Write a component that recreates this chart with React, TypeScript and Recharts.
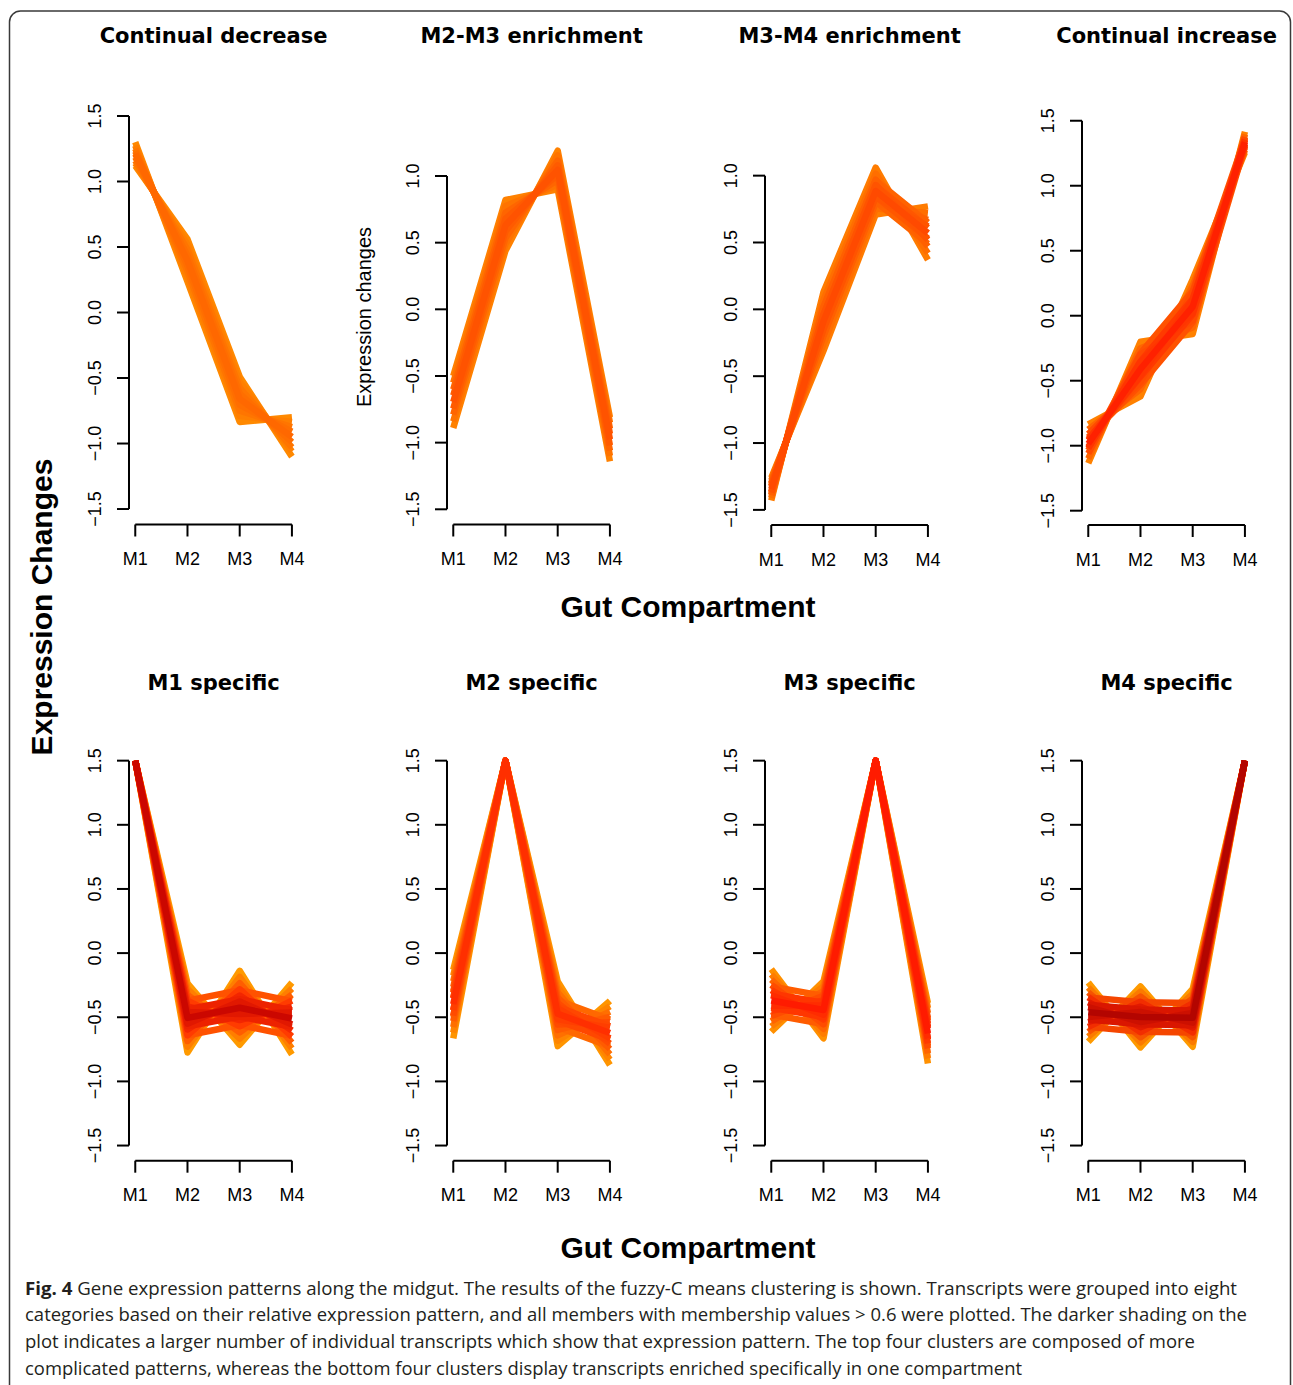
import { LineChart, Line, XAxis, YAxis, ReferenceLine } from 'recharts';

// gut compartments along the midgut
const compartments = ['M1', 'M2', 'M3', 'M4'];
const positions = [1, 2, 3, 4];

const fullTicks = [-1.5, -1.0, -0.5, 0.0, 0.5, 1.0, 1.5];
const shortTicks = [-1.5, -1.0, -0.5, 0.0, 0.5, 1.0];

const clusterTitles = [
  'Continual decrease',
  'M2-M3 enrichment',
  'M3-M4 enrichment',
  'Continual increase',
  'M1 specific',
  'M2 specific',
  'M3 specific',
  'M4 specific',
];

// expression values at M1..M4 for transcripts of each cluster
const decreaseLines = [
  [1.12, 0.56, -0.49, -1.1],
  [1.14, 0.52, -0.53, -1.06],
  [1.16, 0.48, -0.575, -1.03],
  [1.185, 0.435, -0.62, -0.99],
  [1.21, 0.395, -0.66, -0.95],
  [1.23, 0.355, -0.705, -0.91],
  [1.25, 0.315, -0.75, -0.875],
  [1.275, 0.275, -0.79, -0.835],
  [1.3, 0.235, -0.835, -0.8],
];
const decreaseMembership = [0.62, 0.7, 0.78, 0.86, 0.94, 0.86, 0.78, 0.7, 0.62];

const m2m3Lines = [
  [-0.5, 0.82, 0.9, -1.14],
  [-0.55, 0.775, 0.935, -1.1],
  [-0.6, 0.725, 0.97, -1.06],
  [-0.645, 0.68, 1.01, -1.02],
  [-0.695, 0.63, 1.045, -0.975],
  [-0.745, 0.585, 1.08, -0.935],
  [-0.79, 0.535, 1.115, -0.895],
  [-0.84, 0.49, 1.155, -0.85],
  [-0.89, 0.44, 1.19, -0.81],
];
const m2m3Membership = [0.62, 0.7, 0.78, 0.86, 0.94, 0.86, 0.78, 0.7, 0.62];

const m3m4Lines = [
  [-1.43, 0.13, 1.06, 0.37],
  [-1.41, 0.07, 1.015, 0.42],
  [-1.39, 0.02, 0.97, 0.47],
  [-1.37, -0.04, 0.93, 0.52],
  [-1.345, -0.09, 0.885, 0.57],
  [-1.32, -0.15, 0.84, 0.62],
  [-1.3, -0.2, 0.8, 0.67],
  [-1.28, -0.26, 0.755, 0.72],
  [-1.26, -0.31, 0.71, 0.77],
  [-1.385, 0.01, 0.965, 0.65],
  [-1.365, -0.04, 0.925, 0.61],
  [-1.325, -0.14, 0.845, 0.53],
  [-1.305, -0.19, 0.805, 0.49],
];
const m3m4Membership = [0.62, 0.7, 0.78, 0.86, 0.94, 0.86, 0.78, 0.7, 0.62, 0.76, 0.84, 0.84, 0.76];

const increaseLines = [
  [-1.135, -0.2, -0.14, 1.415],
  [-1.1, -0.25, -0.09, 1.395],
  [-1.06, -0.3, -0.035, 1.375],
  [-1.02, -0.355, 0.02, 1.355],
  [-0.985, -0.41, 0.07, 1.335],
  [-0.95, -0.46, 0.12, 1.315],
  [-0.91, -0.51, 0.175, 1.295],
  [-0.875, -0.565, 0.23, 1.275],
  [-0.835, -0.62, 0.28, 1.255],
  [-1.035, -0.29, 0.19, 1.365],
  [-1.01, -0.35, 0.13, 1.35],
  [-0.96, -0.47, 0.01, 1.32],
  [-0.935, -0.53, -0.05, 1.305],
];
const increaseMembership = [0.62, 0.7, 0.78, 0.86, 0.94, 0.86, 0.78, 0.7, 0.62, 0.76, 0.84, 0.84, 0.76];

const m1Lines = [
  [1.5, -0.775, -0.138, -0.79],
  [1.5, -0.73, -0.186, -0.743],
  [1.5, -0.685, -0.234, -0.697],
  [1.5, -0.64, -0.282, -0.65],
  [1.5, -0.595, -0.33, -0.603],
  [1.5, -0.55, -0.378, -0.557],
  [1.5, -0.505, -0.426, -0.51],
  [1.5, -0.46, -0.474, -0.463],
  [1.5, -0.415, -0.522, -0.417],
  [1.5, -0.37, -0.57, -0.37],
  [1.5, -0.325, -0.618, -0.323],
  [1.5, -0.28, -0.666, -0.277],
  [1.5, -0.235, -0.714, -0.23],
  [1.5, -0.64, -0.56, -0.645],
  [1.5, -0.57, -0.495, -0.575],
  [1.5, -0.44, -0.36, -0.445],
  [1.5, -0.37, -0.29, -0.375],
];

const m2Lines = [
  [-0.665, 1.5, -0.725, -0.3725],
  [-0.62, 1.5, -0.683, -0.414],
  [-0.576, 1.5, -0.641, -0.456],
  [-0.531, 1.5, -0.599, -0.4975],
  [-0.487, 1.5, -0.557, -0.539],
  [-0.442, 1.5, -0.515, -0.581],
  [-0.3975, 1.5, -0.473, -0.6225],
  [-0.353, 1.5, -0.431, -0.664],
  [-0.308, 1.5, -0.389, -0.706],
  [-0.264, 1.5, -0.347, -0.7475],
  [-0.219, 1.5, -0.305, -0.789],
  [-0.175, 1.5, -0.263, -0.831],
  [-0.13, 1.5, -0.221, -0.8725],
  [-0.4975, 1.5, -0.578, -0.7275],
  [-0.4475, 1.5, -0.5255, -0.675],
  [-0.3475, 1.5, -0.4205, -0.57],
  [-0.2975, 1.5, -0.368, -0.5175],
];

const m3Lines = [
  [-0.613, -0.221, 1.5, -0.86],
  [-0.572, -0.258, 1.5, -0.821],
  [-0.532, -0.295, 1.5, -0.782],
  [-0.491, -0.332, 1.5, -0.7425],
  [-0.45, -0.369, 1.5, -0.703],
  [-0.41, -0.406, 1.5, -0.664],
  [-0.369, -0.443, 1.5, -0.625],
  [-0.328, -0.48, 1.5, -0.586],
  [-0.288, -0.517, 1.5, -0.547],
  [-0.247, -0.554, 1.5, -0.5075],
  [-0.206, -0.591, 1.5, -0.468],
  [-0.166, -0.628, 1.5, -0.429],
  [-0.125, -0.665, 1.5, -0.39],
  [-0.479, -0.553, 1.5, -0.725],
  [-0.424, -0.498, 1.5, -0.675],
  [-0.314, -0.388, 1.5, -0.575],
  [-0.259, -0.333, 1.5, -0.525],
];

const m4Lines = [
  [-0.691, -0.26, -0.7295, 1.5],
  [-0.6525, -0.3, -0.692, 1.5],
  [-0.614, -0.339, -0.6545, 1.5],
  [-0.5755, -0.379, -0.617, 1.5],
  [-0.537, -0.418, -0.5795, 1.5],
  [-0.4985, -0.458, -0.542, 1.5],
  [-0.46, -0.4975, -0.5045, 1.5],
  [-0.4215, -0.537, -0.467, 1.5],
  [-0.383, -0.577, -0.4295, 1.5],
  [-0.3445, -0.616, -0.392, 1.5],
  [-0.306, -0.656, -0.3545, 1.5],
  [-0.2675, -0.695, -0.317, 1.5],
  [-0.229, -0.735, -0.2795, 1.5],
  [-0.575, -0.6125, -0.6195, 1.5],
  [-0.5175, -0.555, -0.562, 1.5],
  [-0.4025, -0.44, -0.447, 1.5],
  [-0.345, -0.3825, -0.3895, 1.5],
];

// shared by the four compartment-specific clusters
const specificMembership = [
  0.61, 0.66, 0.72, 0.78, 0.84, 0.9, 0.97, 0.9, 0.84, 0.78, 0.72, 0.66, 0.61, 0.74, 0.86, 0.86, 0.74,
];

const captionLines = [
  'Gene expression patterns along the midgut. The results of the fuzzy-C means clustering is shown. Transcripts were grouped into eight',
  'categories based on their relative expression pattern, and all members with membership values > 0.6 were plotted. The darker shading on the',
  'plot indicates a larger number of individual transcripts which show that expression pattern. The top four clusters are composed of more',
  'complicated patterns, whereas the bottom four clusters display transcripts enriched specifically in one compartment',
];

const SANS = '"Liberation Sans", Arial, Helvetica, sans-serif';
const PLOT_W = 169.2;
const Y_W = 60;
const M_TOP = 10;
const M_RIGHT = 24;
const X_H = 60;

const panels = [
  { lines: decreaseLines, membership: decreaseMembership, palette: ['#FF8C00', '#FF7200', '#FF6300'], left: 129, plotTop: 100, plotBottom: 524.5, domain: [-1.618, 1.622], ticks: fullTicks, stroke: 6.5 },
  { lines: m2m3Lines, membership: m2m3Membership, palette: ['#FF8400', '#FF6200', '#FF4C00'], left: 447, plotTop: 114, plotBottom: 524.5, domain: [-1.614, 1.465], ticks: shortTicks, stroke: 6.5 },
  { lines: m3m4Lines, membership: m3m4Membership, palette: ['#FF8000', '#FF5C00', '#FF4200'], left: 765, plotTop: 114, plotBottom: 525, domain: [-1.613, 1.461], ticks: shortTicks, stroke: 6.5 },
  { lines: increaseLines, membership: increaseMembership, palette: ['#FF8800', '#FF4400', '#FF1200'], left: 1082, plotTop: 105, plotBottom: 525, domain: [-1.61, 1.621], ticks: fullTicks, stroke: 6.5 },
  { lines: m1Lines, membership: specificMembership, palette: ['#FFA000', '#FF3000', '#C20000'], left: 129, plotTop: 745, plotBottom: 1160.7, domain: [-1.618, 1.622], ticks: fullTicks, stroke: 6.5 },
  { lines: m2Lines, membership: specificMembership, palette: ['#FF9800', '#FF5400', '#FF2800'], left: 447, plotTop: 745, plotBottom: 1160.7, domain: [-1.618, 1.622], ticks: fullTicks, stroke: 6.5 },
  { lines: m3Lines, membership: specificMembership, palette: ['#FF9400', '#FF4400', '#FF1400'], left: 765, plotTop: 745, plotBottom: 1160.7, domain: [-1.618, 1.622], ticks: fullTicks, stroke: 6.5 },
  { lines: m4Lines, membership: specificMembership, palette: ['#FFA000', '#F02000', '#A80000'], left: 1082, plotTop: 745, plotBottom: 1160.7, domain: [-1.618, 1.622], ticks: fullTicks, stroke: 6.5 },
];

function hexToRgb(h: string) {
  const n = parseInt(h.slice(1), 16);
  return [(n >> 16) & 255, (n >> 8) & 255, n & 255];
}

// membership 0.6..1 -> light orange .. dark red
function shade(m: number, palette: string[]) {
  const t = Math.min(1, Math.max(0, (m - 0.6) / 0.4));
  const seg = t * (palette.length - 1);
  const i = Math.min(palette.length - 2, Math.floor(seg));
  const f = seg - i;
  const a = hexToRgb(palette[i]);
  const b = hexToRgb(palette[i + 1]);
  const c = a.map((v, k) => Math.round(v + (b[k] - v) * f));
  return `rgb(${c[0]},${c[1]},${c[2]})`;
}

function fmt(v: number) {
  return v.toFixed(1).replace('-', '\u2212');
}

function RotTick(props: any) {
  const { x, y, payload } = props;
  return (
    <text
      transform={`translate(${x},${y}) rotate(-90)`}
      textAnchor="middle"
      fontSize={18}
      fontFamily={SANS}
      fill="#000"
    >
      {fmt(payload.value)}
    </text>
  );
}

function Panel({ spec }: { spec: (typeof panels)[number] }) {
  const { lines, membership, palette, left, plotTop, plotBottom, domain, ticks, stroke } = spec;
  const rows = positions.map((p, i) => {
    const row: Record<string, number> = { pos: p };
    lines.forEach((l, j) => {
      row[`t${j}`] = l[i];
    });
    return row;
  });
  const order = lines.map((_, j) => j).sort((a, b) => membership[a] - membership[b] || a - b);
  const width = Y_W + PLOT_W + M_RIGHT;
  const height = M_TOP + (plotBottom - plotTop) + X_H;

  return (
    <div style={{ position: 'absolute', left: left - Y_W, top: plotTop - M_TOP }}>
      <LineChart width={width} height={height} data={rows} margin={{ top: M_TOP, right: M_RIGHT, bottom: 0, left: 0 }}>
        <XAxis
          type="number"
          dataKey="pos"
          domain={[0.88, 4.12]}
          ticks={positions}
          interval={0}
          allowDataOverflow
          tickFormatter={(v: number) => compartments[v - 1]}
          axisLine={false}
          tickLine={{ stroke: '#000', strokeWidth: 2 }}
          tickSize={12}
          tickMargin={16}
          height={X_H}
          tick={{ fill: '#000', fontSize: 18, fontFamily: SANS }}
        />
        <YAxis
          type="number"
          domain={domain}
          ticks={ticks}
          interval={0}
          allowDataOverflow
          axisLine={false}
          tickLine={{ stroke: '#000', strokeWidth: 2 }}
          tickSize={12}
          tickMargin={16}
          width={Y_W}
          tick={<RotTick />}
        />
        <ReferenceLine
          segment={[{ x: 0.88, y: ticks[0] }, { x: 0.88, y: ticks[ticks.length - 1] }]}
          stroke="#000"
          strokeWidth={2}
          ifOverflow="visible"
        />
        <ReferenceLine
          segment={[{ x: 1, y: domain[0] }, { x: 4, y: domain[0] }]}
          stroke="#000"
          strokeWidth={2}
          ifOverflow="visible"
        />
        {order.map((j) => (
          <Line
            key={j}
            type="linear"
            dataKey={`t${j}`}
            stroke={shade(membership[j], palette)}
            strokeWidth={stroke}
            strokeLinejoin="round"
            dot={false}
            activeDot={false}
            isAnimationActive={false}
          />
        ))}
      </LineChart>
    </div>
  );
}

export default function App() {
  return (
    <div style={{ position: 'relative', width: 1293, height: 1385, overflow: 'hidden', background: '#fff' }}>
      <style>{'body{margin:0}'}</style>
      {panels.map((p, i) => (
        <Panel key={i} spec={p} />
      ))}
      <svg width={1293} height={1385} style={{ position: 'absolute', left: 0, top: 0, pointerEvents: 'none' }}>
        <rect x={9.5} y={11} width={1281} height={1420} rx={11} fill="none" stroke="#3a3a3a" strokeWidth={1.5} />
        {clusterTitles.map((t, i) => (
          <text
            key={t}
            x={panels[i].left + 84.6}
            y={i < 4 ? 43 : 690}
            textAnchor="middle"
            fontSize={21}
            fontWeight="bold"
            fontFamily='"DejaVu Sans", sans-serif'
            fill="#000"
          >
            {t}
          </text>
        ))}
        <text transform="translate(371,317) rotate(-90)" textAnchor="middle" fontSize={20} fontFamily={SANS} fill="#000">
          Expression changes
        </text>
        <text transform="translate(52,607) rotate(-90)" textAnchor="middle" fontSize={30} fontWeight="bold" fontFamily={SANS} fill="#000">
          Expression Changes
        </text>
        <text x={688} y={617} textAnchor="middle" fontSize={30} fontWeight="bold" fontFamily={SANS} fill="#000">
          Gut Compartment
        </text>
        <text x={688} y={1258} textAnchor="middle" fontSize={30} fontWeight="bold" fontFamily={SANS} fill="#000">
          Gut Compartment
        </text>
        {captionLines.map((line, i) => (
          <text
            key={i}
            x={25}
            y={1294.5 + i * 26.7}
            fontSize={18}
            fontFamily='"Open Sans", sans-serif'
            fill="#231f20"
            textLength={[1212, 1222, 1170, 997][i]}
            lengthAdjust="spacingAndGlyphs"
          >
            {i === 0 && <tspan fontWeight="bold">Fig. 4 </tspan>}
            {line}
          </text>
        ))}
      </svg>
    </div>
  );
}
